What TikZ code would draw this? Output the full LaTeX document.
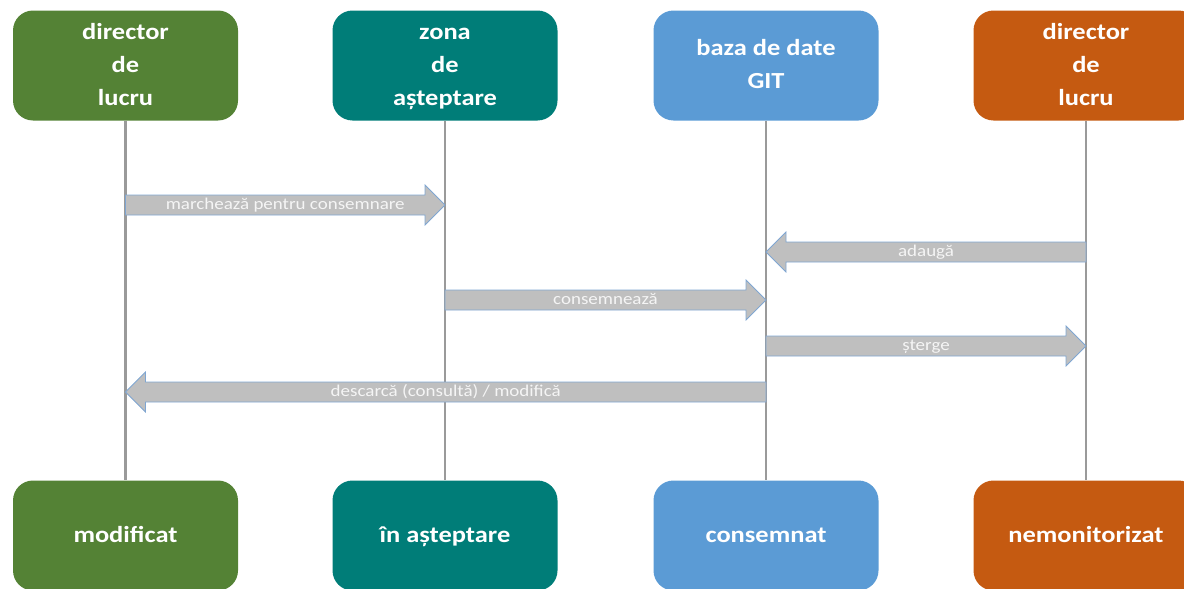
\documentclass[tikz,border=0pt]{standalone}
\usepackage{fontspec}
\setmainfont{Carlito}[FakeStretch=1.15]
\usetikzlibrary{calc}

\definecolor{wdgreen}{HTML}{548235}
\definecolor{stageteal}{HTML}{007D78}
\definecolor{repoblue}{HTML}{5B9BD5}
\definecolor{untrorange}{HTML}{C55A11}
\definecolor{flowgray}{HTML}{BFBFBF}
\definecolor{flowedge}{HTML}{7FA6D2}
\definecolor{lifegray}{HTML}{9A9A9A}

\newcommand\stline[1]{\strut#1}

\tikzset{
  state/.style={rounded corners=20pt, minimum width=225pt, minimum height=110pt,
    inner sep=0pt, align=center, text=white,
    font=\fontsize{23}{33}\selectfont\bfseries},
  life/.style={draw=lifegray, line width=2.2pt},
  flow/.style={draw=flowedge, fill=flowgray, line width=.8pt,
    to path={let \p1=(\tikztostart), \p2=(\tikztotarget),
      \p3=($(\tikztotarget)!20pt!(\tikztostart)$) in
      (\x1,\y1+10) -- (\x3,\y1+10) -- (\x3,\y1+20) -- (\x2,\y2)
      -- (\x3,\y1-20) -- (\x3,\y1-10) -- (\x1,\y1-10) -- cycle}},
  flowtext/.style={text=white!96!black, inner sep=0pt,
    text height=11pt, text depth=3pt,
    font=\fontsize{16.5}{18}\selectfont}
}

\begin{document}
\begin{tikzpicture}[x=1pt,y=-1pt]
    \useasboundingbox (0,0) rectangle (1184,589);

    % the four places, above and below
    \foreach \x/\t/\b/\c/\k in
       {125.5/{\stline{director}\\\stline{de}\\\stline{lucru}}/modificat/wdgreen/0,
        445/{\stline{zona}\\\stline{de}\\\stline{așteptare}}/în așteptare/stageteal/1,
        766/{\stline{baza de date}\\\stline{GIT}}/consemnat/repoblue/2,
        1086/{\stline{director}\\\stline{de}\\\stline{lucru}}/nemonitorizat/untrorange/3} {
        \node[state,fill=\c] (top\k) at (\x,65.5) {\t};
        \node[state,fill=\c] (bot\k) at (\x,535.5) {\stline{\b}};
    }
    \foreach \k in {0,1,2,3}
      \draw[life] (top\k) -- (bot\k);

    % messages
    \coordinate (s1) at (top0 |- 0,205);
    \coordinate (e1) at (top1 |- 0,205);
    \coordinate (s2) at (top3 |- 0,252);
    \coordinate (e2) at (top2 |- 0,252);
    \coordinate (s3) at (top1 |- 0,300);
    \coordinate (e3) at (top2 |- 0,300);
    \coordinate (s4) at (top2 |- 0,346);
    \coordinate (e4) at (top3 |- 0,346);
    \coordinate (s5) at (top2 |- 0,392);
    \coordinate (e5) at (top0 |- 0,392);
    \foreach \k in {1,...,5}
      \draw[flow] (s\k) to (e\k);

    \node[flowtext] (t1) at ($(s1)!.5!(e1)$) {marchează pentru consemnare};
    \node[flowtext] (t2) at ($(s2)!.5!(e2)$) {adaugă};
    \node[flowtext] (t3) at ($(s3)!.5!(e3)$) {consemnează};
    \node[flowtext] (t4) at ($(s4)!.5!(e4)$) {șterge};
    \node[flowtext] (t5) at ($(s5)!.5!(e5)$) {descarcă (consultă) / modifică};
\end{tikzpicture}
\end{document}
